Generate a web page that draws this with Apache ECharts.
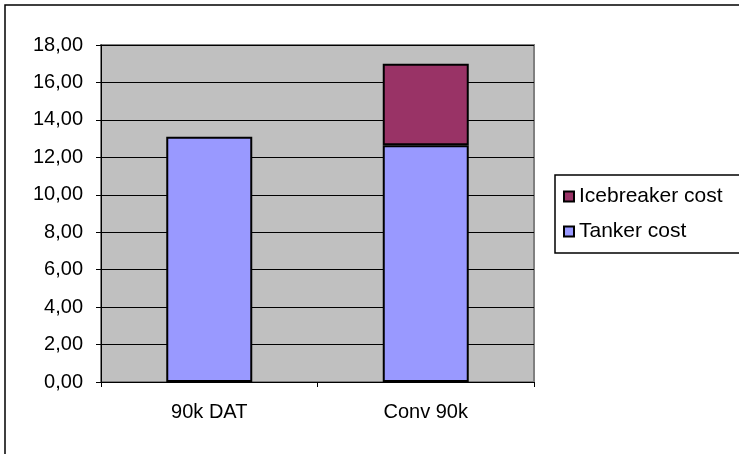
<!DOCTYPE html>
<html>
<head>
<meta charset="utf-8">
<title>Cost comparison</title>
<script src="https://cdn.jsdelivr.net/npm/echarts@6/dist/echarts.min.js"></script>
<style>
  html, body { margin: 0; padding: 0; background: #fff; }
  #chart { width: 739px; height: 454px; }
</style>
</head>
<body>
<div id="chart"></div>
<script>
// Ship concepts on the category axis
const categories = ['90k DAT', 'Conv 90k'];
// Stacked cost components per concept
const tankerCost = [13.1, 12.65];
const icebreakerCost = [0, 4.35];
// Value axis ticks
const yTicks = [0, 2, 4, 6, 8, 10, 12, 14, 16, 18];

const FONT = '"Liberation Sans", Arial, sans-serif';
const chart = echarts.init(document.getElementById('chart'), null, { renderer: 'canvas' });

const fmt = v => v.toFixed(2).replace('.', ',');

chart.setOption({
  animation: false,
  backgroundColor: '#ffffff',
  textStyle: { fontFamily: FONT, color: '#000' },
  grid: {
    left: 101, right: 205, top: 45, bottom: 72,
    show: true,
    backgroundColor: '#c0c0c0',
    borderColor: '#808080',
    borderWidth: 2
  },
  legend: {
    orient: 'vertical',
    left: 558,
    top: 181,
    itemWidth: 10,
    itemHeight: 10,
    itemGap: 14,
    icon: 'rect',
    data: ['Icebreaker cost', 'Tanker cost'],
    textStyle: { fontFamily: FONT, fontSize: 21, color: '#000' }
  },
  xAxis: {
    type: 'category',
    data: categories,
    axisLine: { show: true, lineStyle: { color: '#000', width: 1 } },
    axisTick: { show: true, length: 5, lineStyle: { color: '#000' } },
    axisLabel: { fontFamily: FONT, fontSize: 20, color: '#000', margin: 20 },
    splitLine: { show: false }
  },
  yAxis: {
    type: 'value',
    min: yTicks[0],
    max: yTicks[yTicks.length - 1],
    interval: yTicks[1] - yTicks[0],
    axisLine: { show: true, lineStyle: { color: '#000', width: 1 } },
    axisTick: { show: true, length: 5, lineStyle: { color: '#000' } },
    axisLabel: { fontFamily: FONT, fontSize: 20, color: '#000', margin: 18, formatter: fmt },
    splitLine: { show: true, lineStyle: { color: '#000', width: 1 } }
  },
  series: [
    {
      name: 'Tanker cost',
      type: 'bar',
      stack: 'cost',
      data: tankerCost,
      barWidth: 86,
      itemStyle: { color: '#9999ff', borderColor: '#000', borderWidth: 2 }
    },
    {
      name: 'Icebreaker cost',
      type: 'bar',
      stack: 'cost',
      data: icebreakerCost.map(v => (v === 0 ? null : v)),
      barWidth: 86,
      itemStyle: { color: '#993366', borderColor: '#000', borderWidth: 2 }
    }
  ],
  graphic: [
    {
      type: 'rect',
      shape: { x: 5, y: 5, width: 800, height: 600 },
      style: { fill: 'none', stroke: '#000', lineWidth: 1.5 },
      silent: true
    },
    {
      type: 'rect',
      shape: { x: 555, y: 175, width: 200, height: 78 },
      style: { fill: 'none', stroke: '#000', lineWidth: 1.5 },
      silent: true
    }
  ]
});
</script>
</body>
</html>
